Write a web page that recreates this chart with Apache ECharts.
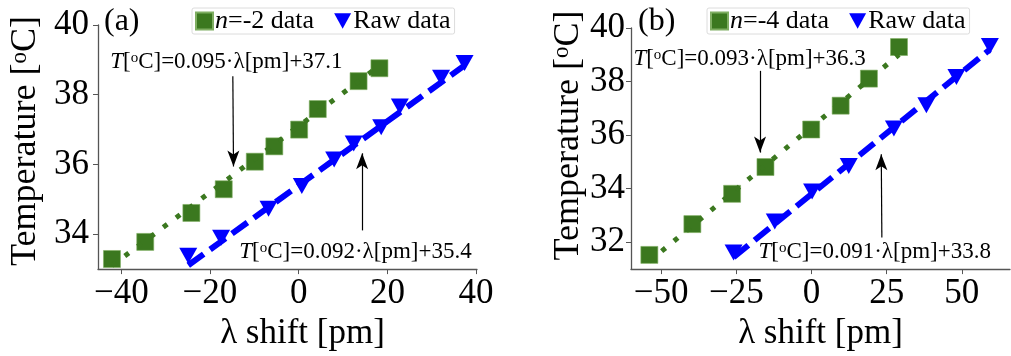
<!DOCTYPE html>
<html>
<head>
<meta charset="utf-8">
<script src="https://cdn.jsdelivr.net/npm/echarts@6/dist/echarts.min.js"></script>
<style>
  html, body { margin: 0; padding: 0; background: #fff; }
  #chart { width: 1011px; height: 356px; }
</style>
</head>
<body>
<div id="chart"></div>
<script>
// ---- Panel (a): n = -2 ----
const aHarmX = [-42.1, -34.6, -24.2, -16.9, -9.9, -5.5, 0.1, 4.3, 13.5, 18.2];
const aHarmY = [33.29, 33.78, 34.61, 35.29, 36.08, 36.52, 37.0, 37.59, 38.39, 38.76];
const aRawX = [-24.9, -17.5, -6.8, 0.7, 8.0, 12.4, 18.6, 22.8, 32.1, 37.4];
const aRawY = [33.38, 33.9, 34.73, 35.38, 36.14, 36.6, 37.07, 37.66, 38.49, 38.91];
const aHarmFit = [0.095, 37.1];   // slope, intercept
const aRawFit = [0.092, 35.4];
const aXTicks = [-40, -20, 0, 20, 40];
const aYTicks = [34, 36, 38, 40];

// ---- Panel (b): n = -4 ----
const bHarmX = [-53.9, -39.6, -26.4, -15.3, -0.1, 9.7, 19.1, 29.1];
const bHarmY = [31.53, 32.68, 33.81, 34.81, 36.21, 37.1, 38.11, 39.29];
const bRawX = [-25.9, -12.2, 0.2, 12.4, 27.4, 38.2, 48.2, 59.3];
const bRawY = [31.62, 32.78, 33.9, 34.85, 36.25, 37.12, 38.17, 39.33];
const bHarmFit = [0.093, 36.3];
const bRawFit = [0.091, 33.8];
const bXTicks = [-50, -25, 0, 25, 50];
const bYTicks = [32, 34, 36, 38, 40];

const harmNames = ['n=-2 data', 'n=-4 data'];
const rawName = 'Raw data';
const panelTags = ['(a)', '(b)'];

const FONT = '"Liberation Serif", "Times New Roman", serif';
const GREEN = '#3b781f';
const BLUE = '#0000ff';
const TRI_DOWN = 'path://M0,0 L20,0 L10,18 Z';

const zip = (xs, ys) => xs.map((x, i) => [x, ys[i]]);
const fitSegment = (xs, fit) => {
  const lo = Math.min(...xs), hi = Math.max(...xs);
  return [[lo, fit[0] * lo + fit[1]], [hi, fit[0] * hi + fit[1]]];
};
const fitText = fit => '{i|T}[{sup|o}C]=' + fit[0].toFixed(3) + '·λ[pm]+' + fit[1].toFixed(1);
const tickFmt = v => (v < 0 ? '\u2212' + Math.abs(v) : String(v));

const panels = [
  {
    harmX: aHarmX, harmY: aHarmY, rawX: aRawX, rawY: aRawY,
    harmFit: aHarmFit, rawFit: aRawFit, xTicks: aXTicks, yTicks: aYTicks,
    grid: { left: 98, top: 25, width: 379, height: 247 },
    xRange: [-45.25, 40.2], yRange: [33, 40],
    yLabelMargin: 9, yNameGap: 54, yNameShift: 12, xNameShift: 30,
    legendLeft: 192, tagLeft: 104,
    notes: [
      { at: [-42.5, 38.95], arrow: [[-14.85, 38.53], [-14.7, 35.94]], fit: 'harm' },
      { at: [-13.4, 33.48], arrow: [[14.3, 34.11], [14.3, 36.32]], fit: 'raw' }
    ]
  },
  {
    harmX: bHarmX, harmY: bHarmY, rawX: bRawX, rawY: bRawY,
    harmFit: bHarmFit, rawFit: bRawFit, xTicks: bXTicks, yTicks: bYTicks,
    grid: { left: 631, top: 28, width: 379, height: 246 },
    xRange: [-60, 66], yRange: [31, 40],
    yLabelMargin: 6, yNameGap: 41, yNameShift: 26, xNameShift: 0,
    legendLeft: 707, tagLeft: 638,
    notes: [
      { at: [-59.2, 38.83], arrow: [[-17.1, 38.40], [-17.1, 35.35]], fit: 'harm' },
      { at: [-17.6, 31.63], arrow: [[23.4, 32.18], [23.2, 35.29]], fit: 'raw' }
    ]
  }
];

const grids = [], xAxes = [], yAxes = [], series = [], legends = [], titles = [];

panels.forEach((p, k) => {
  grids.push(Object.assign({ containLabel: false }, p.grid));

  xAxes.push({
    type: 'value', gridIndex: k, min: p.xRange[0], max: p.xRange[1],
    axisLine: { show: true, onZero: false, lineStyle: { color: '#555', width: 1.3 } },
    axisTick: { show: true, length: 5, customValues: p.xTicks, lineStyle: { color: '#555', width: 1 } },
    axisLabel: { customValues: p.xTicks, formatter: tickFmt, fontFamily: FONT, fontSize: 35, color: '#000', margin: 7 },
    splitLine: { show: false },
    name: 'λ shift [pm]', nameLocation: 'middle', nameGap: 46,
    nameTextStyle: { fontFamily: FONT, fontSize: 35, color: '#000', padding: [0, 0, 0, p.xNameShift] }
  });

  yAxes.push({
    type: 'value', gridIndex: k, min: p.yRange[0], max: p.yRange[1],
    axisLine: { show: true, onZero: false, lineStyle: { color: '#555', width: 1.3 } },
    axisTick: { show: true, length: 5, customValues: p.yTicks, lineStyle: { color: '#555', width: 1 } },
    axisLabel: { customValues: p.yTicks, formatter: tickFmt, fontFamily: FONT, fontSize: 35, color: '#000', margin: p.yLabelMargin },
    splitLine: { show: false },
    name: 'Temperature [{sup|o}C]', nameLocation: 'middle', nameGap: p.yNameGap, nameRotate: 90,
    nameTextStyle: {
      fontFamily: FONT, fontSize: 36, color: '#000', padding: [0, 0, 0, p.yNameShift],
      rich: { sup: { fontFamily: FONT, fontSize: 23, verticalAlign: 'top', color: '#000' } }
    }
  });

  // measured points
  series.push({
    name: harmNames[k], type: 'scatter', xAxisIndex: k, yAxisIndex: k,
    data: zip(p.harmX, p.harmY), symbol: 'rect', symbolSize: 17, z: 3,
    itemStyle: { color: GREEN, borderColor: '#7fae62', borderWidth: 0.6, opacity: 1 }
  });
  series.push({
    name: rawName, type: 'scatter', xAxisIndex: k, yAxisIndex: k,
    data: zip(p.rawX, p.rawY), symbol: TRI_DOWN, symbolSize: [18, 16], z: 3,
    itemStyle: { color: BLUE, opacity: 1 }
  });

  // linear fits
  series.push({
    name: 'fit-harm-' + k, type: 'line', xAxisIndex: k, yAxisIndex: k,
    data: fitSegment(p.harmX, p.harmFit), showSymbol: false, symbol: 'none', z: 4, silent: true,
    lineStyle: { color: GREEN, width: 5, type: [5, 11], cap: 'butt' }
  });
  series.push({
    name: 'fit-raw-' + k, type: 'line', xAxisIndex: k, yAxisIndex: k,
    data: fitSegment(p.rawX, p.rawFit), showSymbol: false, symbol: 'none', z: 4, silent: true,
    lineStyle: { color: BLUE, width: 6, type: [19, 8], cap: 'butt' }
  });

  // fit equations with arrows
  p.notes.forEach((n, j) => {
    const fit = n.fit === 'harm' ? p.harmFit : p.rawFit;
    series.push({
      name: 'note-' + k + '-' + j, type: 'scatter', xAxisIndex: k, yAxisIndex: k,
      data: [n.at], symbolSize: 0, z: 6, silent: true,
      itemStyle: { opacity: 1 },
      label: {
        show: true, position: 'right', distance: 0, formatter: fitText(fit),
        fontFamily: FONT, fontSize: 23, color: '#000', opacity: 1,
        rich: {
          i: { fontFamily: FONT, fontStyle: 'italic', fontSize: 23, color: '#000' },
          sup: { fontFamily: FONT, fontSize: 15, verticalAlign: 'top', color: '#000' }
        }
      },
      markLine: {
        silent: true, animation: false,
        symbol: ['none', 'arrow'], symbolSize: [9, 16],
        label: { show: false },
        lineStyle: { color: '#000', width: 1.2, type: 'solid', opacity: 1 },
        data: [[{ coord: n.arrow[0] }, { coord: n.arrow[1] }]]
      }
    });
  });

  legends.push({
    left: p.legendLeft, top: 8, orient: 'horizontal',
    data: [harmNames[k], rawName], selectedMode: false,
    itemWidth: 17, itemHeight: 17, itemGap: 20,
    backgroundColor: '#fff', borderColor: '#dcdcdc', borderWidth: 1, borderRadius: 2,
    padding: [0, 4, 0, 3],
    formatter: name => name.replace(/^n/, '{i|n}'),
    textStyle: {
      fontFamily: FONT, fontSize: 26, color: '#000', padding: [0, 0, 0, -3],
      rich: { i: { fontFamily: FONT, fontStyle: 'italic', fontSize: 26, color: '#000' } }
    }
  });

  titles.push({
    text: panelTags[k], left: p.tagLeft, top: 6, padding: 0,
    textStyle: { fontFamily: FONT, fontSize: 32, fontWeight: 'normal', color: '#000' }
  });
});

const chart = echarts.init(document.getElementById('chart'), null, { renderer: 'canvas' });
chart.setOption({
  animation: false,
  backgroundColor: '#fff',
  title: titles,
  legend: legends,
  grid: grids,
  xAxis: xAxes,
  yAxis: yAxes,
  series: series
});
</script>
</body>
</html>
